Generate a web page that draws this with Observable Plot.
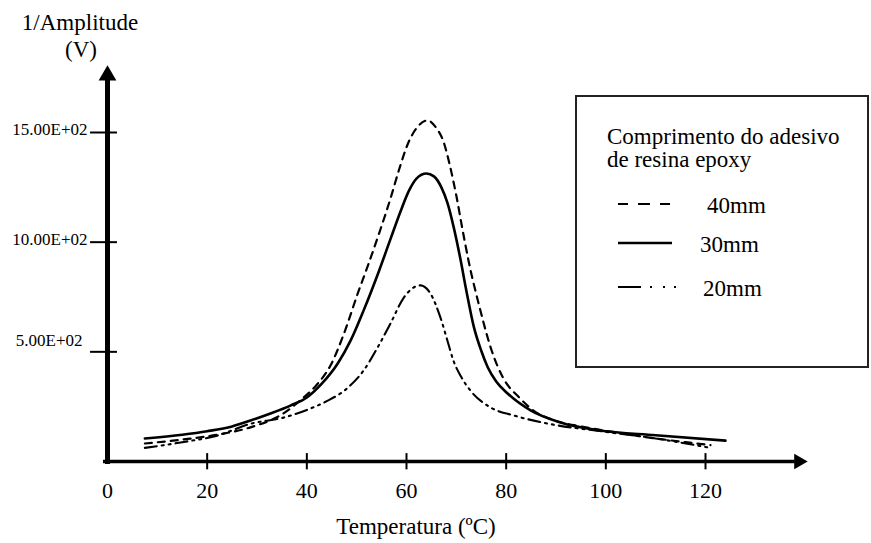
<!DOCTYPE html>
<html><head><meta charset="utf-8">
<script src="https://cdn.jsdelivr.net/npm/d3@7"></script>
<script src="https://cdn.jsdelivr.net/npm/@observablehq/plot@0.6"></script>
<style>
body{margin:0;background:#fff;}
#wrap{position:relative;width:871px;height:543px;font-family:"Liberation Serif","Times New Roman",serif;color:#000;}
.lbl{position:absolute;font-size:23px;white-space:nowrap;line-height:1;transform:translateX(-50%);}
#overlay{position:absolute;left:0;top:0;pointer-events:none;}
</style></head><body><div id="wrap"></div>
<script>
// ---- data (temperature °C, 1/amplitude) ----
const temp40 = [7.5,15,22,29,35,39,42,44.8,47.4,50.2,52.2,54.8,56.8,58.5,60.3,62.2,64.2,66,67.4,68.7,70.1,71.3,72.5,74.7,77.1,79.3,82.7,85.3,90,95,100,110,116,121];
const amp40  = [82,100,122,158,215,285,350,440,580,765,890,1060,1200,1330,1450,1525,1555,1520,1460,1350,1200,1050,910,700,505,385,290,235,185,160,140,105,88,75];

const temp30 = [7.5,15,20,25,28.7,32.7,36.7,40,43,46.2,48.8,51.4,54.5,56.8,58.8,60.5,62,64,65.5,67,68.2,69.5,70.8,72,73.5,75,76.3,78,80.3,84.9,90.9,98.9,110,124];
const amp30  = [105,122,138,160,187,219,255,292,355,447,552,689,870,1015,1140,1235,1290,1313,1300,1250,1180,1065,925,780,615,505,430,365,310,233,178,141,120,95];

const temp20 = [7.5,15,22,28.7,35.3,40,44,48,51.4,54.2,56.8,59.4,61.2,62.8,64.8,66.8,68.2,69.4,71,72.8,76.9,81.5,88.3,100,110,121];
const amp20  = [62,88,118,172,200,235,275,332,415,520,630,745,790,803,766,657,552,461,385,324,246,210,173,135,105,62];

const xTicks = [0,20,40,60,80,100,120];
const yTicks = [500,1000,1500];
const yTickLabels = ["5.00E+02","10.00E+02","15.00E+02"];
const seriesNames = ["40mm","30mm","20mm"];
const legendTitle = ["Comprimento do adesivo","de resina epoxy"];
const xTitle = "Temperatura (ºC)";
const yTitle = ["1/Amplitude","(V)"];

const xAxisEnd = 138, yAxisEnd = 1740, xArrow = 138.7, yArrow = 1760;

const toRows = (ts, vs) => ts.map((t,i) => ({t, v: vs[i]}));
const d40 = toRows(temp40, amp40), d30 = toRows(temp30, amp30), d20 = toRows(temp20, amp20);

const dash40 = "7,6", dash20 = "12,5,2,5,2,5";

const chart = Plot.plot({
  width: 871, height: 543,
  marginLeft: 107, marginRight: 166, marginTop: 132, marginBottom: 82,
  x: {domain: [0,120], axis: null},
  y: {domain: [0,1500], axis: null},
  style: {fontFamily: '"Liberation Serif","Times New Roman",serif', background: "white", color: "black"},
  marks: [
    Plot.ruleY([0], {x1: -0.8, x2: xAxisEnd, stroke: "black", strokeWidth: 3.5}),
    Plot.ruleX([0], {y1: -14, y2: yAxisEnd, stroke: "black", strokeWidth: 5}),
    Plot.dot([{t: xArrow, v: 0}], {x: "t", y: "v", symbol: "triangle", rotate: 90, r: 5.8, fill: "black", stroke: null}),
    Plot.dot([{t: 0, v: yArrow}], {x: "t", y: "v", symbol: "triangle", r: 6.6, fill: "black", stroke: null}),
    Plot.ruleX(xTicks.slice(1), {x: d => d, y1: -38, y2: 36, stroke: "black", strokeWidth: 2}),
    Plot.ruleY(yTicks, {y: d => d, x1: -3.4, x2: 2, stroke: "black", strokeWidth: 2}),
    Plot.text(xTicks, {x: d => d, y: 0, dy: 29, text: d => String(d), fontSize: 22, fill: "black"}),
    Plot.text(yTicks.slice(1), {x: 0, y: d => d, dx: -20, dy: -3, text: d => yTickLabels[yTicks.indexOf(d)], textAnchor: "end", fontSize: 17, fill: "black"}),
    Plot.text(yTicks.slice(0,1), {x: 0, y: d => d, dx: -25, dy: -11, text: d => yTickLabels[yTicks.indexOf(d)], textAnchor: "end", fontSize: 17, fill: "black"}),
    Plot.line(d40, {x: "t", y: "v", stroke: "black", strokeWidth: 2.2, strokeDasharray: dash40, curve: "monotone-x"}),
    Plot.line(d30, {x: "t", y: "v", stroke: "black", strokeWidth: 2.6, curve: "monotone-x"}),
    Plot.line(d20, {x: "t", y: "v", stroke: "black", strokeWidth: 2.1, strokeDasharray: dash20, curve: "monotone-x"})
  ]
});

const wrap = document.getElementById("wrap");
wrap.appendChild(chart);

// axis titles
const addLabel = (txt, cx, top) => {
  const d = document.createElement("div");
  d.className = "lbl"; d.textContent = txt;
  d.style.left = cx + "px"; d.style.top = top + "px";
  wrap.appendChild(d);
};
addLabel(yTitle[0], 80, 11);
addLabel(yTitle[1], 81, 38);
addLabel(xTitle, 416, 515);

// legend
const svg = d3.select(wrap).append("svg").attr("id","overlay").attr("width",871).attr("height",543);
svg.append("rect").attr("x",576).attr("y",96).attr("width",292).attr("height",271)
  .attr("fill","none").attr("stroke","#222").attr("stroke-width",2);
const fam = '"Liberation Serif","Times New Roman",serif';
legendTitle.forEach((t,i) => svg.append("text").attr("x",607).attr("y",[144,167][i])
  .attr("font-family",fam).attr("font-size",23).text(t));
const legendRows = [
  {name: seriesNames[0], y: 204, x2: 670, dash: "10,10,12,10,10", w: 2.2, tx: 707},
  {name: seriesNames[1], y: 243, x2: 672, dash: null, w: 2.6, tx: 700},
  {name: seriesNames[2], y: 287, x2: 678, dash: "23,9,2,11,2,9,2", w: 2.1, tx: 703}
];
legendRows.forEach(r => {
  const l = svg.append("line").attr("x1",618).attr("x2",r.x2).attr("y1",r.y).attr("y2",r.y)
    .attr("stroke","black").attr("stroke-width",r.w);
  if (r.dash) l.attr("stroke-dasharray", r.dash);
  svg.append("text").attr("x",r.tx).attr("y",r.y + 9).attr("font-family",fam).attr("font-size",23).text(r.name);
});
</script></body></html>
